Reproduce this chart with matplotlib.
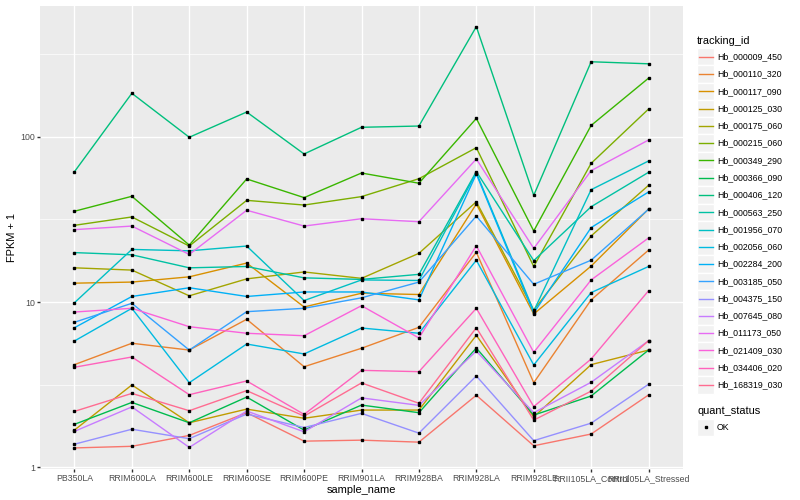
import numpy as np
import matplotlib
matplotlib.use("Agg")
import matplotlib.pyplot as plt
from matplotlib.patches import Rectangle
from matplotlib.ticker import FixedLocator, NullFormatter

plt.rcParams['font.family'] = ['Liberation Sans', 'DejaVu Sans']

# x categories
samples = ["PB350LA", "RRIM600LA", "RRIM600LE", "RRIM600SE", "RRIM600PE", "RRIM901LA",
           "RRIM928BA", "RRIM928LA", "RRIM928LE", "RRII105LA_Control", "RRII105LA_Stressed"]

# FPKM + 1 per gene
hb_000009_450 = [1.31, 1.34, 1.56, 2.14, 1.44, 1.46, 1.42, 2.73, 1.35, 1.59, 2.74]
hb_000110_320 = [4.18, 5.63, 5.12, 7.86, 4.06, 5.25, 7.03, 20.0, 3.25, 10.3, 20.6]
hb_000117_090 = [13.0, 13.2, 14.2, 17.2, 9.33, 11.3, 11.1, 39.2, 8.46, 16.5, 36.5]
hb_000125_030 = [1.68, 3.15, 1.86, 2.25, 1.98, 2.22, 2.22, 6.29, 2.02, 4.18, 5.12]
hb_000175_060 = [16.1, 15.6, 10.9, 13.8, 15.2, 13.9, 19.7, 40.4, 8.94, 25.1, 50.8]
hb_000215_060 = [29.1, 32.7, 21.8, 41.2, 38.6, 43.4, 55.7, 85.8, 16.4, 69.0, 147]
hb_000349_290 = [35.4, 43.6, 22.1, 55.5, 42.8, 60.3, 52.3, 129, 26.9, 117, 226]
hb_000366_090 = [1.82, 2.47, 1.86, 2.66, 1.68, 2.38, 2.14, 5.27, 2.07, 2.70, 5.12]
hb_000406_120 = [61.4, 183, 99.2, 141, 78.6, 114, 116, 463, 44.2, 284, 276]
hb_000563_250 = [19.9, 19.3, 16.1, 16.4, 14.0, 13.7, 14.7, 61.5, 17.8, 37.7, 60.9]
hb_001956_070 = [9.90, 20.8, 20.4, 21.8, 10.2, 13.6, 13.5, 60.6, 8.82, 47.8, 71.3]
hb_002056_060 = [5.81, 9.16, 3.25, 5.57, 4.85, 6.96, 6.47, 17.9, 4.16, 11.4, 16.4]
hb_002284_200 = [6.99, 10.8, 12.2, 10.8, 11.5, 11.5, 10.3, 59.5, 8.58, 28.2, 46.3]
hb_003185_050 = [7.54, 9.82, 5.12, 8.74, 9.16, 10.6, 13.2, 33.1, 12.8, 17.9, 36.4]
hb_004375_150 = [1.38, 1.70, 1.49, 2.10, 1.74, 2.12, 1.61, 3.57, 1.45, 1.85, 3.18]
hb_007645_080 = [1.65, 2.32, 1.32, 2.19, 1.64, 2.63, 2.37, 5.05, 2.14, 3.27, 5.83]
hb_011173_050 = [27.4, 28.8, 19.4, 35.9, 28.8, 31.9, 30.6, 73.3, 21.1, 62.3, 95.5]
hb_021409_030 = [8.70, 9.16, 7.09, 6.47, 6.25, 9.50, 6.06, 21.9, 4.96, 13.6, 24.4]
hb_034406_020 = [4.03, 4.65, 2.75, 3.33, 2.09, 3.86, 3.79, 9.16, 2.33, 4.52, 11.7]
hb_168319_030 = [2.18, 2.80, 2.20, 2.91, 2.04, 3.24, 2.44, 6.99, 1.93, 2.89, 5.83]

tracking_ids = ["Hb_000009_450", "Hb_000110_320", "Hb_000117_090", "Hb_000125_030",
                "Hb_000175_060", "Hb_000215_060", "Hb_000349_290", "Hb_000366_090",
                "Hb_000406_120", "Hb_000563_250", "Hb_001956_070", "Hb_002056_060",
                "Hb_002284_200", "Hb_003185_050", "Hb_004375_150", "Hb_007645_080",
                "Hb_011173_050", "Hb_021409_030", "Hb_034406_020", "Hb_168319_030"]
series = [hb_000009_450, hb_000110_320, hb_000117_090, hb_000125_030, hb_000175_060,
          hb_000215_060, hb_000349_290, hb_000366_090, hb_000406_120, hb_000563_250,
          hb_001956_070, hb_002056_060, hb_002284_200, hb_003185_050, hb_004375_150,
          hb_007645_080, hb_011173_050, hb_021409_030, hb_034406_020, hb_168319_030]

# ggplot hue palette, 20 levels
colors = ["#F8766D", "#EA8331", "#D89000", "#C09B00", "#A3A500", "#7CAE00", "#39B600",
          "#00BB4E", "#00BF7D", "#00C1A3", "#00BFC4", "#00BAE0", "#00B0F6", "#35A2FF",
          "#9590FF", "#C77CFF", "#E76BF3", "#FA62DB", "#FF62BC", "#FF6C91"]

W, H = 800, 500
px = 0.72  # pixel -> point at dpi 100

fig = plt.figure(figsize=(8, 5), dpi=100)
ax = fig.add_axes([40 / W, 1 - 469 / H, (683 - 40) / W, (469 - 5.6) / H])
ax.set_facecolor("#EBEBEB")
for s in ax.spines.values():
    s.set_visible(False)

x = np.arange(len(samples))
for vals, c in zip(series, colors):
    ax.plot(x, vals, color=c, lw=1.0, zorder=2)
for vals in series:
    ax.plot(x, vals, ls="none", marker="s", ms=2.1, color="black", zorder=3)

ax.set_yscale("log")
allv = np.log10(np.concatenate([np.array(v) for v in series]))
lo, hi = allv.min(), allv.max()
pad = 0.05 * (hi - lo)
ax.set_ylim(10 ** (lo - pad), 10 ** (hi + pad))
ax.set_xlim(-0.6, len(samples) - 0.4)

ax.yaxis.set_major_locator(FixedLocator([1, 10, 100]))
ax.set_yticklabels(["1", "10", "100"])
ax.yaxis.set_minor_locator(FixedLocator([10 ** 0.5, 10 ** 1.5, 10 ** 2.5]))
ax.yaxis.set_minor_formatter(NullFormatter())
ax.set_xticks(x)
ax.set_xticklabels(samples)

ax.grid(True, which="major", color="white", lw=1.0, zorder=0)
ax.grid(True, which="minor", axis="y", color="white", lw=0.5, zorder=0)
ax.set_axisbelow(True)
ax.tick_params(which="major", length=2.75 * px, width=1.0, color="#333333",
               labelcolor="#4D4D4D", labelsize=8.8 * px, pad=2.2 * px)
ax.tick_params(which="minor", length=0)

fig.text(12 / W, 1 - 237.3 / H, "FPKM + 1", rotation=90, ha="center", va="center",
         fontsize=11 * px)
fig.text(361.5 / W, 1 - 490 / H, "sample_name", ha="center", va="center", fontsize=11 * px)

# legends, drawn in pixel coordinates
lax = fig.add_axes([0, 0, 1, 1])
lax.set_xlim(0, W)
lax.set_ylim(H, 0)
lax.axis("off")

key = 17.28
kx = 697
lax.text(kx, 40.5, "tracking_id", ha="left", va="center", fontsize=11 * px)
for i, (name, c) in enumerate(zip(tracking_ids, colors)):
    yc = 56.7 + key * i
    lax.add_patch(Rectangle((kx, yc - key / 2), key, key, facecolor="#F2F2F2",
                            edgecolor="white", lw=1.0))
    lax.plot([kx + 1.7, kx + key - 1.7], [yc, yc], color=c, lw=1.0)
    lax.text(kx + key + 2.5, yc, name, ha="left", va="center", fontsize=8.8 * px)

lax.text(kx, 411, "quant_status", ha="left", va="center", fontsize=11 * px)
yc = 427.3
lax.add_patch(Rectangle((kx, yc - key / 2), key, key, facecolor="#F2F2F2",
                        edgecolor="white", lw=1.0))
lax.plot([kx + key / 2], [yc], ls="none", marker="s", ms=2.1, color="black")
lax.text(kx + key + 2.5, yc, "OK", ha="left", va="center", fontsize=8.8 * px)

fig.savefig("out.png", dpi=100)
